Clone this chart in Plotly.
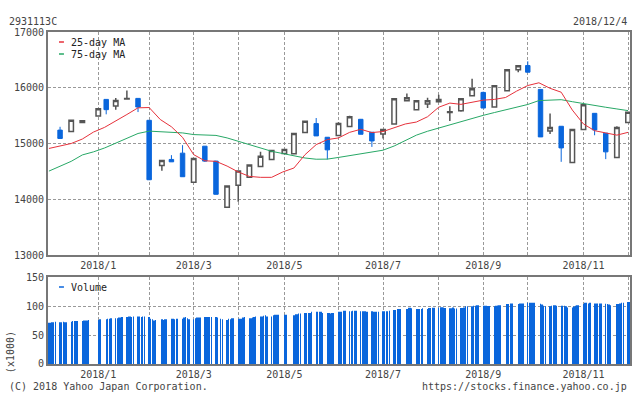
import pandas as pd
import plotly.graph_objects as go

# ---------------- data ----------------
candle_dates = ["2017-12-11", "2017-12-18", "2017-12-25", "2018-01-04", "2018-01-09", "2018-01-15",
                "2018-01-22", "2018-01-29", "2018-02-05", "2018-02-13", "2018-02-19", "2018-02-26",
                "2018-03-05", "2018-03-12", "2018-03-19", "2018-03-26", "2018-04-02", "2018-04-09",
                "2018-04-16", "2018-04-23", "2018-05-01", "2018-05-07", "2018-05-14", "2018-05-21",
                "2018-05-28", "2018-06-04", "2018-06-11", "2018-06-18", "2018-06-25", "2018-07-02",
                "2018-07-09", "2018-07-17", "2018-07-23", "2018-07-30", "2018-08-06", "2018-08-13",
                "2018-08-20", "2018-08-27", "2018-09-03", "2018-09-10", "2018-09-18", "2018-09-25",
                "2018-10-01", "2018-10-09", "2018-10-15", "2018-10-22", "2018-10-29", "2018-11-05",
                "2018-11-12", "2018-11-19", "2018-11-26", "2018-12-03"]
opens = [15240, 15214, 15375, 15493, 15791, 15671, 15800, 15809, 15416, 14607, 14714, 14827,
         14304, 14952, 14684, 13857, 14250, 14393, 14589, 14714, 14821, 14814, 15196, 15357,
         15112, 15143, 15304, 15434, 15202, 15171, 15350, 15768, 15607, 15707, 15750, 15554,
         15589, 15857, 15916, 15654, 15946, 16321, 16398, 15970, 15225, 15309, 14661, 15250,
         15541, 15184, 14750, 15375]
highs = [15300, 15420, 15415, 15630, 15795, 15814, 15952, 15812, 15420, 14700, 14791, 14970,
         14735, 14955, 14690, 14240, 14510, 14613, 14850, 14880, 14895, 15180, 15400, 15457,
         15115, 15380, 15500, 15440, 15205, 15255, 15806, 15898, 15770, 15821, 15875, 15666,
         15806, 16161, 15930, 16040, 16325, 16395, 16475, 15972, 15536, 15312, 15255, 15700,
         15545, 15186, 15310, 15562]
lows = [15090, 15210, 15370, 15490, 15523, 15607, 15786, 15564, 14345, 14511, 14668, 14400,
        14300, 14670, 14085, 13850, 13957, 14390, 14585, 14710, 14818, 14810, 15190, 15136,
        14714, 15140, 15300, 15166, 14939, 15089, 15348, 15765, 15605, 15636, 15745, 15404,
        15570, 15855, 15636, 15650, 15944, 16279, 16279, 15118, 15171, 14671, 14658, 15245,
        15148, 14720, 14745, 15370]
closes = [15090, 15416, 15410, 15625, 15607, 15773, 15808, 15654, 14350, 14696, 14671, 14404,
          14732, 14684, 14089, 14237, 14505, 14613, 14773, 14875, 14893, 15179, 15398, 15136,
          14886, 15357, 15482, 15166, 15046, 15250, 15804, 15821, 15768, 15768, 15791, 15571,
          15804, 15982, 15636, 16036, 16321, 16393, 16279, 15118, 15286, 14921, 15250, 15696,
          15243, 14850, 15286, 15559]

ma_dates = list(pd.date_range("2017-12-04", "2018-12-03", freq="7D").strftime("%Y-%m-%d"))
ma25 = [14911, 14950, 15000, 15080, 15205, 15290, 15400, 15520, 15640, 15645, 15430, 15300,
        15110, 14800, 14690, 14680, 14595, 14490, 14410, 14393, 14393, 14490, 14560, 14800,
        14980, 15070, 15100, 15200, 15255, 15196, 15215, 15280, 15350, 15385, 15480, 15650,
        15725, 15702, 15743, 15778, 15791, 15825, 15940, 16040, 16089, 15990, 15920, 15600,
        15350, 15230, 15190, 15150, 15200]
ma75 = [14505, 14590, 14680, 14795, 14850, 14920, 15005, 15090, 15180, 15222, 15212, 15205,
        15190, 15160, 15148, 15145, 15100, 15040, 14975, 14915, 14860, 14820, 14775, 14740,
        14718, 14720, 14750, 14780, 14812, 14845, 14880, 14955, 15050, 15150, 15220, 15279,
        15335, 15395, 15457, 15505, 15555, 15600, 15650, 15700, 15770, 15780, 15786, 15750,
        15714, 15680, 15650, 15620, 15590]

holidays = ["2018-01-01", "2018-01-02", "2018-01-03", "2018-01-08", "2018-02-12", "2018-03-21",
            "2018-04-30", "2018-05-03", "2018-05-04", "2018-07-16", "2018-09-17", "2018-09-24",
            "2018-10-08", "2018-11-23"]

volume_weeks = [
    [71, 71, 72, 72, 73], [72, 72, 73, 72, 72], [73, 74, 74, 74, 74], [74, 75, 75, 75, 76],
    [76, 77], [77, 78, 78, 79], [79, 79, 80, 80, 81], [81, 82, 82, 81, 82],
    [82, 82, 81, 82, 82], [81, 78, 77, 75, 76], [77, 76, 77, 77], [78, 78, 77, 78, 78],
    [78, 80, 81, 79, 77], [77, 79, 80, 80, 80], [81, 81, 81, 81, 81], [81, 80, 78, 77],
    [76, 78, 77, 79, 79], [78, 78, 78, 80, 81], [79, 79, 80, 81, 82], [82, 82, 83, 84, 82],
    [82, 84, 85, 85, 85], [85, 85], [84, 86, 86, 87, 87], [88, 88, 88, 88, 90],
    [90, 90, 90, 90, 88], [88, 88, 87, 88, 88], [90, 90, 90, 92, 92], [91, 91, 92, 92, 92],
    [91, 91, 91, 91, 90], [91, 90, 90, 90, 90], [91, 91, 91, 91, 92], [93, 93, 95, 95, 95],
    [95, 97, 97, 96], [95, 95, 95, 95, 96], [95, 96.5, 96.5, 97, 97], [97, 98, 98, 97.5, 96.5],
    [96, 96, 97.5, 95.5, 95.5], [96.5, 96.5, 97.5, 99.5, 99.5], [99.5, 100.5, 100.5, 101.5, 101.5],
    [100.5, 100.5, 100.5, 100, 100], [99.5, 100.5, 101, 101.5, 101.5], [103.5, 103.5, 104.5, 104.5],
    [103.5, 104.5, 104.5, 104.5], [105.5, 105.5, 105.5, 105.5, 105.5], [104, 102.5, 100.5, 99.5],
    [99.5, 100.5, 101.5, 101.5, 100.5], [100.5, 100.5, 100.5, 99.5, 97.5],
    [97.5, 99, 100.5, 101.5, 101.5], [103.5, 105.5, 105.5, 104.5, 105.5],
    [104.5, 104.5, 104.5, 104.5, 104.5], [104, 103.5, 102.5, 101.5],
    [103.5, 103.5, 104.5, 105.5, 105.5], [107, 107],
]

month_ticks = ["2018-01-04", "2018-02-05", "2018-03-05", "2018-04-02", "2018-05-01", "2018-06-04",
               "2018-07-02", "2018-08-06", "2018-09-03", "2018-10-01", "2018-11-05", "2018-12-03"]
month_labels = ["2018/1", "", "2018/3", "", "2018/5", "", "2018/7", "", "2018/9", "", "2018/11", ""]

price_ticks = [13000, 14000, 15000, 16000, 17000]
volume_ticks = [0, 50, 100, 150]

# ---------------- build ----------------
trade_days = [d for d in pd.bdate_range("2017-12-04", "2018-12-04")
              if d.strftime("%Y-%m-%d") not in holidays]
volumes = [v for wk in volume_weeks for v in wk]
n = min(len(trade_days), len(volumes))
trade_days = trade_days[:n]
volumes = volumes[:n]

BLUE = "#0a66dc"
RED = "#e6313b"
GREEN = "#27a866"
GRAY = "#555555"
FONT = "DejaVu Sans Mono"
TXT = "#444444"

fig = go.Figure()
fig.add_trace(go.Scatter(x=ma_dates, y=ma75, mode="lines", line=dict(color=GREEN, width=1),
                         xaxis="x", yaxis="y", hoverinfo="skip"))
fig.add_trace(go.Scatter(x=ma_dates, y=ma25, mode="lines", line=dict(color=RED, width=1),
                         xaxis="x", yaxis="y", hoverinfo="skip"))
fig.add_trace(go.Candlestick(
    x=candle_dates, open=opens, high=highs, low=lows, close=closes,
    increasing=dict(line=dict(color=GRAY, width=1.5), fillcolor="white"),
    decreasing=dict(line=dict(color=BLUE, width=1), fillcolor=BLUE),
    whiskerwidth=0, xaxis="x", yaxis="y", hoverinfo="skip"))
fig.add_trace(go.Bar(x=trade_days, y=volumes, marker=dict(color=BLUE, line=dict(width=0)),
                     width=0.25 * 86400000, xaxis="x2", yaxis="y2", hoverinfo="skip"))

x_range = ["2017-12-03 10:00", "2018-12-04 06:00"]
grid = dict(showgrid=True, gridcolor="#999999", gridwidth=1, griddash="3px,2px")
frame = dict(showline=True, linecolor="#777777", linewidth=2, mirror=True, zeroline=False,
             ticks="", tickfont=dict(family=FONT, size=10, color=TXT))

fig.update_layout(
    width=634, height=394,
    margin=dict(l=48, r=2, t=32, b=30),
    paper_bgcolor="white", plot_bgcolor="white",
    showlegend=False,
    boxgap=0.2, boxgroupgap=0.3,
    xaxis=dict(type="date", range=x_range, anchor="y", tickmode="array",
               tickvals=month_ticks, ticktext=month_labels, rangeslider=dict(visible=False),
               **grid, **frame),
    yaxis=dict(range=[13000, 17000], domain=[0.3283, 1], anchor="x", tickmode="array",
               tickvals=price_ticks, ticktext=[str(v) for v in price_ticks], **grid, **frame),
    xaxis2=dict(type="date", range=x_range, anchor="y2", tickmode="array",
                tickvals=month_ticks, ticktext=month_labels, **grid, **frame),
    yaxis2=dict(range=[0, 150], domain=[0, 0.262], anchor="x2", tickmode="array",
                tickvals=volume_ticks, ticktext=[str(v) for v in volume_ticks], **grid, **frame),
)

def px_x(px):
    return (px - 48) / 584.0

def px_y(py):
    return (364 - py) / 332.0

annos = [
    ("2931113C", 7, 21, "left", TXT),
    ("2018/12/4", 631, 21, "right", TXT),
    ("(C) 2018 Yahoo Japan Corporation.", 7, 386, "left", TXT),
    ("https://stocks.finance.yahoo.co.jp", 631, 386, "right", TXT),
    ("25-day MA", 69, 42, "left", "#222222"),
    ("75-day MA", 69, 54, "left", "#222222"),
    ("Volume", 69, 287, "left", "#222222"),
]
for text, x, y, anc, col in annos:
    fig.add_annotation(text=text, x=px_x(x), y=px_y(y), xref="paper", yref="paper",
                       xanchor=anc, yanchor="middle", showarrow=False,
                       font=dict(family=FONT, size=10, color=col))
fig.add_annotation(text="(x1000)", x=px_x(10), y=px_y(352), xref="paper", yref="paper",
                   textangle=-90, showarrow=False, xanchor="center", yanchor="middle",
                   font=dict(family=FONT, size=10, color=TXT))

for color, y in [(RED, 42), (GREEN, 54), (BLUE, 287)]:
    fig.add_shape(type="line", xref="paper", yref="paper", x0=px_x(59), x1=px_x(64),
                  y0=px_y(y), y1=px_y(y), line=dict(color=color, width=1.5))

fig.write_html("out.html", config={"displayModeBar": False},
               post_script="document.body.style.margin='0px';")
